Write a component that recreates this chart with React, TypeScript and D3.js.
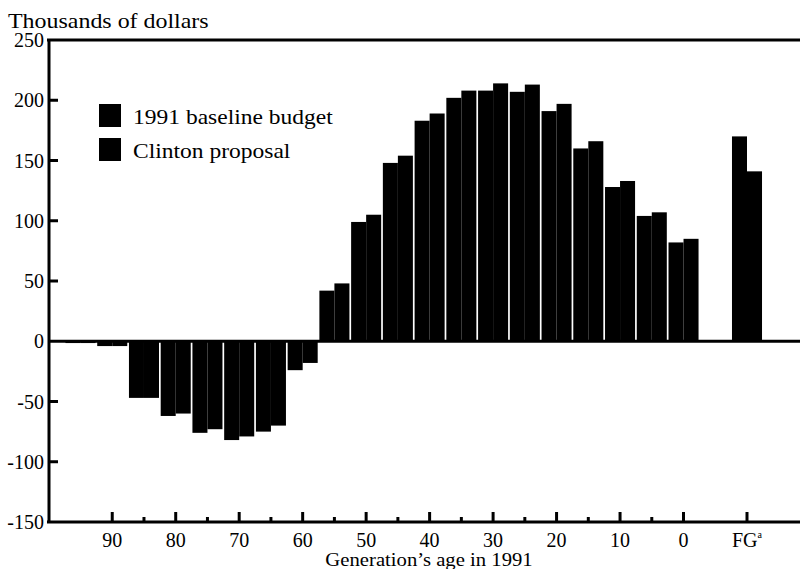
import React, { useEffect, useRef } from "react";
import * as d3 from "d3";

// generations by age in 1991 (blank slot before FG = future generations)
const generations = ["95", "90", "85", "80", "75", "70", "65", "60", "55", "50", "45", "40", "35", "30", "25", "20", "15", "10", "5", "0", "", "FG"];
const baselineBudget = [-1.5, -4, -47, -62, -76, -82, -75, -24, 42, 99, 148, 183, 202, 208, 207, 191, 160, 128, 104, 82, null, 170];
const clintonProposal = [-1.5, -4, -47, -60, -73, -79, -70, -18, 48, 105, 154, 189, 208, 214, 213, 197, 166, 133, 107, 85, null, 141];

const yTicks = [250, 200, 150, 100, 50, 0, -50, -100, -150];
const majorLabels = ["90", "80", "70", "60", "50", "40", "30", "20", "10", "0", "FG"];
const minorLabels = ["85", "75", "65", "55", "45", "35", "25", "15", "5"];
const legendItems = ["1991 baseline budget", "Clinton proposal"];

const App = () => {
  const ref = useRef<SVGSVGElement | null>(null);

  useEffect(() => {
    const svg = d3.select(ref.current);
    svg.selectAll("*").remove();

    const width = 802;
    const height = 569;
    const left = 49;
    const right = 800;
    const top = 40;
    const bottom = 522;
    const font = "Liberation Serif, DejaVu Serif, serif";

    const yScale = d3.scaleLinear().domain([-150, 250]).range([bottom, top]);
    const xScale = d3.scaleLinear().domain([0, generations.length - 1]).range([80.5, 747]);
    const step = xScale(1) - xScale(0);
    const barW = (step - 1.7) / 2;

    svg.attr("width", width).attr("height", height).style("font-family", font);

    // bars
    const g = svg.append("g");
    generations.forEach((gen, i) => {
      const pairs = [baselineBudget[i], clintonProposal[i]];
      pairs.forEach((v, k) => {
        if (v === null) return;
        const x0 = xScale(i) - barW + k * barW;
        g.append("rect")
          .attr("x", x0)
          .attr("y", Math.min(yScale(v), yScale(0)))
          .attr("width", barW)
          .attr("height", Math.abs(yScale(v) - yScale(0)))
          .attr("fill", "#000");
      });
    });

    // frame: top line, left axis, bottom axis, zero line
    const lines = [
      [left - 2, yScale(250), right, yScale(250)],
      [left, yScale(250) - 1, left, yScale(-150) + 1],
      [left - 2, yScale(-150), right, yScale(-150)],
      [left, yScale(0), right, yScale(0)],
    ];
    lines.forEach(([x1, y1, x2, y2]) => {
      svg.append("line")
        .attr("x1", x1).attr("y1", y1).attr("x2", x2).attr("y2", y2)
        .attr("stroke", "#000").attr("stroke-width", 3);
    });

    // y ticks and labels
    yTicks.forEach((t) => {
      if (t !== 250 && t !== -150 && t !== 0) {
        svg.append("line")
          .attr("x1", left).attr("x2", left + 9)
          .attr("y1", yScale(t)).attr("y2", yScale(t))
          .attr("stroke", "#000").attr("stroke-width", 3);
      }
      svg.append("text")
        .attr("x", 44)
        .attr("y", yScale(t) + 7)
        .attr("text-anchor", "end")
        .style("font-size", "20px")
        .text(t);
    });

    // x ticks
    majorLabels.forEach((lab) => {
      const x = xScale(generations.indexOf(lab));
      svg.append("line")
        .attr("x1", x).attr("x2", x)
        .attr("y1", bottom).attr("y2", bottom - 10)
        .attr("stroke", "#000").attr("stroke-width", 3);
      const t = svg.append("text")
        .attr("x", x)
        .attr("y", 547)
        .attr("text-anchor", "middle")
        .style("font-size", "20px")
        .text(lab);
      if (lab === "FG") {
        t.append("tspan").style("font-size", "10px").attr("dy", -9).text("a");
      }
    });
    minorLabels.forEach((lab) => {
      const x = xScale(generations.indexOf(lab));
      svg.append("line")
        .attr("x1", x).attr("x2", x)
        .attr("y1", bottom).attr("y2", bottom - 5)
        .attr("stroke", "#000").attr("stroke-width", 3);
    });

    // titles
    svg.append("text")
      .attr("transform", "translate(8,28) scale(1.14,1)")
      .style("font-size", "21px")
      .text("Thousands of dollars");

    svg.append("text")
      .attr("transform", "translate(429,566) scale(1.15,1)")
      .attr("text-anchor", "middle")
      .style("font-size", "18px")
      .text("Generation\u2019s age in 1991");

    // legend
    legendItems.forEach((name, i) => {
      const y = 104 + i * 34;
      svg.append("rect")
        .attr("x", 99).attr("y", y)
        .attr("width", 22).attr("height", 23)
        .attr("fill", "#000");
      svg.append("text")
        .attr("transform", `translate(133,${y + 20}) scale(1.12,1)`)
        .style("font-size", "21px")
        .text(name);
    });
  }, []);

  return (
    <div style={{ position: "fixed", left: 0, top: 0 }}>
      <svg ref={ref} style={{ display: "block", background: "#fff" }}></svg>
    </div>
  );
};

export default App;
